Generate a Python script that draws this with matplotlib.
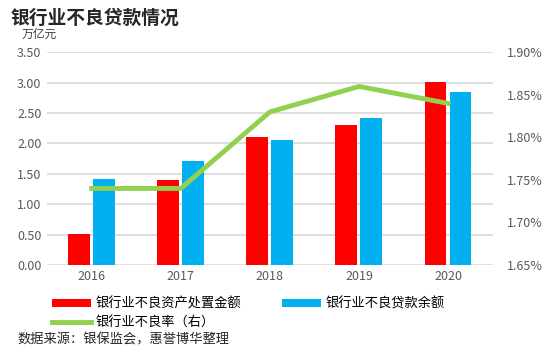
import matplotlib

matplotlib.use("Agg")
import matplotlib.pyplot as plt
import numpy as np
from matplotlib.lines import Line2D
from matplotlib.patches import Patch

plt.rcParams["font.family"] = ["Noto Sans CJK SC", "DejaVu Sans"]

years = ["2016", "2017", "2018", "2019", "2020"]
disposal = [0.51, 1.40, 2.10, 2.30, 3.02]      # 银行业不良资产处置金额
balance = [1.42, 1.71, 2.06, 2.42, 2.85]       # 银行业不良贷款余额
npl_ratio = [1.74, 1.74, 1.83, 1.86, 1.84]     # 银行业不良率 (%)

left_ticks = np.arange(0, 3.51, 0.5)
right_ticks = np.arange(1.65, 1.901, 0.05)

RED = "#ff0000"
BLUE = "#00b0f0"
GREEN = "#92d050"
TICK = "#595959"

fig = plt.figure(figsize=(5.6, 3.59), dpi=100)
ax = fig.add_axes([0.084, 0.262, 0.796, 0.592])
x = np.arange(len(years))
w = 0.245
ax.bar(x - 0.143, disposal, width=w, color=RED, zorder=3)
ax.bar(x + 0.138, balance, width=w, color=BLUE, zorder=3)
ax.set_xlim(-0.5, len(years) - 0.5)
ax.set_ylim(0, 3.5)
ax.set_yticks(left_ticks)
ax.set_yticklabels([f"{v:.2f}" for v in left_ticks])
ax.set_xticks(x)
ax.set_xticklabels(years)
ax.grid(True, axis="y", color="#d9d9d9", linewidth=1.2, zorder=0)
for s in ax.spines.values():
    s.set_visible(False)
ax.tick_params(length=0, labelsize=9, colors=TICK, pad=4)

ax2 = ax.twinx()
ax2.plot(x, npl_ratio, color=GREEN, linewidth=3.5, zorder=5)
ax2.set_ylim(1.65, 1.90)
ax2.set_yticks(right_ticks)
ax2.set_yticklabels([f"{v:.2f}%" for v in right_ticks])
for s in ax2.spines.values():
    s.set_visible(False)
ax2.tick_params(length=0, labelsize=9, colors=TICK, pad=10)

fig.text(0.018, 0.948, "银行业不良贷款情况", fontsize=13.5, fontweight="bold",
         color="#262626", va="center")
fig.text(0.038, 0.905, "万亿元", fontsize=8.5, color="#404040", va="center")

handles = [
    Patch(facecolor=RED, label="银行业不良资产处置金额"),
    Line2D([], [], color=GREEN, linewidth=3.5, label="银行业不良率（右）"),
    Patch(facecolor=BLUE, label="银行业不良贷款余额"),
]
fig.legend(handles=handles, ncol=2, loc="upper left", bbox_to_anchor=(0.078, 0.194),
           frameon=False, fontsize=9.5, handlelength=3.0, handleheight=0.5,
           handletextpad=0.3, columnspacing=3.1, labelspacing=0.45, borderpad=0.1)

fig.text(0.032, 0.053, "数据来源：银保监会，惠誉博华整理", fontsize=9.5, color="#262626", va="center")

fig.savefig("out.png", dpi=100)
